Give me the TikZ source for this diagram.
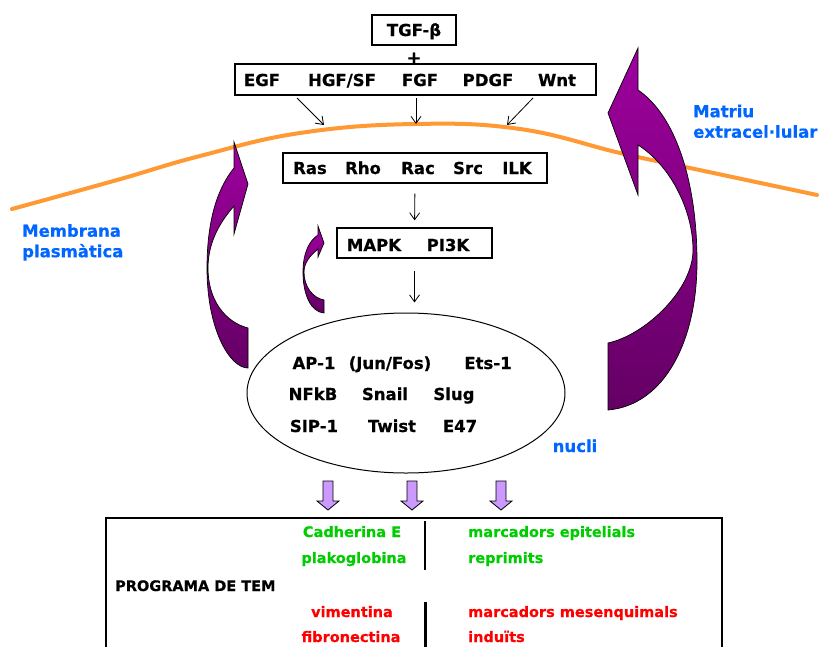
\documentclass[tikz,border=0pt]{standalone}
\usepackage{fontspec}
\setmainfont{DejaVu Sans}[BoldFeatures={FakeBold=0.6}]
\usetikzlibrary{arrows.meta,shapes.geometric}
\definecolor{orangeline}{RGB}{255,153,51}
\definecolor{lblue}{RGB}{0,102,255}
\definecolor{lgreen}{RGB}{0,204,0}
\definecolor{lred}{RGB}{255,0,0}
\definecolor{lav}{RGB}{204,153,255}
\definecolor{purpT}{RGB}{158,0,158}
\definecolor{purpB}{RGB}{100,0,100}
\begin{document}
\begin{tikzpicture}[x=1pt,y=-1pt,
  box/.style={draw, line width=1.2pt, inner sep=0pt},
  lbl/.style={font=\fontsize{16.5}{20}\selectfont\bfseries, inner sep=0pt, anchor=base},
  sm/.style={font=\fontsize{14.5}{18}\selectfont\bfseries, inner sep=0pt, anchor=base},
  blue/.style={font=\fontsize{16.5}{20.5}\selectfont\bfseries, text=lblue, inner sep=0pt, align=left},
  arr/.style={line width=0.8pt, -{Straight Barb[length=7pt,width=10pt]}},
  purp/.style={top color=purpT, bottom color=purpB, draw=black, line width=0.7pt},
  downarr/.style={fill=lav, draw=black, line width=0.8pt}]
\useasboundingbox (0,0) rectangle (821,646);

% membrane
\draw[orangeline, line width=4pt, line cap=round] plot[smooth, tension=0.7] coordinates
  {(12,209) (117,180) (200,156) (300,133) (414,124) (520,129) (620,153) (690,168) (817,195)};

% boxes
\node[box, minimum width=84pt, minimum height=30pt] (tgfbox) at (414,30) {};
\node[lbl] (tgf) at (414,36) {TGF-β};
\node[lbl, font=\fontsize{18}{22}\selectfont\bfseries] (plus) at (414,64) {+};
\node[box, minimum width=361pt, minimum height=31pt] (egfbox) at (415.5,79.5) {};
\node[lbl] (egf) at (262,86) {EGF};
\node[lbl] (hgf) at (342,86) {HGF/SF};
\node[lbl] (fgf) at (420,86) {FGF};
\node[lbl] (pdgf) at (488,86) {PDGF};
\node[lbl] (wnt) at (557,86) {Wnt};

\node[box, minimum width=264pt, minimum height=30pt] (rasbox) at (415,168) {};
\node[lbl] (ras) at (310,174) {Ras};
\node[lbl] (rho) at (363,174) {Rho};
\node[lbl] (rac) at (418,174) {Rac};
\node[lbl] (src) at (468,174) {Src};
\node[lbl] (ilk) at (517,174) {ILK};

\node[box, minimum width=155pt, minimum height=30pt] (mapkbox) at (414.5,243) {};
\node[lbl] (mapk) at (374,251) {MAPK};
\node[lbl] (pik) at (448,251) {PI3K};

% nucleus
\node[ellipse, draw, line width=1pt, minimum width=318pt, minimum height=160pt, inner sep=0pt] (nuc) at (406,393) {};
\node[lbl] (ap1) at (314,369) {AP-1};
\node[lbl] (junfos) at (390,369) {(Jun/Fos)};
\node[lbl] (ets) at (488,369) {Ets-1};
\node[lbl] (nfkb) at (313,400) {NFkB};
\node[lbl] (snail) at (385,400) {Snail};
\node[lbl] (slug) at (454,400) {Slug};
\node[lbl] (sip) at (314,432) {SIP-1};
\node[lbl] (twist) at (392,432) {Twist};
\node[lbl] (e47) at (460,432) {E47};
\node[lbl, text=lblue] (nucli) at (575,452) {nucli};

% blue labels
\node[blue, anchor=north west] (membr) at (22,224) {Membrana\\plasmàtica};
\node[blue, anchor=north west] (matriu) at (693,104.5) {Matriu\\extracel·lular};

% thin arrows
\coordinate (s1) at (297,98);
\coordinate (e1) at (324,125);
\coordinate (s2) at (416,98);
\coordinate (e2) at (416,124);
\coordinate (s3) at (533,98);
\coordinate (e3) at (507,125);
\draw[arr] (s1) -- (e1);
\draw[arr] (s2) -- (e2);
\draw[arr] (s3) -- (e3);
\draw[arr, shorten <=10pt, shorten >=7pt] (rasbox.south) -- (mapkbox.north);
\draw[arr, shorten <=12pt, shorten >=10pt] (mapkbox.south) -- (mapkbox.south |- nuc.north);

% purple curved arrows
\path[purp] (234,142) -- (248,184) -- (234,234) -- (234,206)
  .. controls (222,220) and (208,240) .. (208,268)
  .. controls (208,300) and (225,322) .. (248,328) -- (248,368)
  .. controls (230,368) and (207,330) .. (207,268)
  .. controls (207,215) and (220,185) .. (234,168) -- cycle;
\path[purp] (318,226) -- (324,243) -- (318,257) -- (318,249)
  .. controls (311,255) and (304,262) .. (304,272)
  .. controls (304,287) and (313,298) .. (324,300) -- (324,313)
  .. controls (311,312) and (303,295) .. (303,272)
  .. controls (303,252) and (310,240) .. (318,235) -- cycle;
\path[purp] (638,48) -- (608,113) -- (638,195) -- (638,145)
  .. controls (670,165) and (693,210) .. (693,250)
  .. controls (693,290) and (645,335) .. (608,343) -- (608,410)
  .. controls (665,405) and (697,340) .. (697,262)
  .. controls (697,180) and (675,115) .. (638,90) -- cycle;

% small down arrows
\foreach \x in {328,412,501}
  \path[downarr] ({\x-5},481) -- ({\x+5},481) -- ({\x+5},501) -- ({\x+11},501) -- (\x,510) -- ({\x-11},501) -- ({\x-5},501) -- cycle;

% bottom box
\draw[line width=1.3pt] (106,660) -- (106,518) -- (722,518) -- (722,660);
\draw[line width=1.2pt] (425,521) -- (425,570);
\draw[line width=3pt] (425,602) -- (425,650);
\node[sm, text=lgreen] (cad) at (352,537) {Cadherina E};
\node[sm, text=lgreen] (plak) at (354,563) {plakoglobina};
\node[sm, anchor=base west] (prog) at (115,591) {PROGRAMA DE TEM};
\node[sm, text=lred] (vim) at (352,617) {vimentina};
\node[sm, text=lred] (fib) at (351,642) {fibronectina};
\node[sm, text=lgreen, anchor=base west] (mepi) at (468,537) {marcadors epitelials};
\node[sm, text=lgreen, anchor=base west] (repr) at (468,563) {reprimits};
\node[sm, text=lred, anchor=base west] (mmes) at (468,617) {marcadors mesenquimals};
\node[sm, text=lred, anchor=base west] (ind) at (468,642) {induïts};
\end{tikzpicture}
\end{document}
